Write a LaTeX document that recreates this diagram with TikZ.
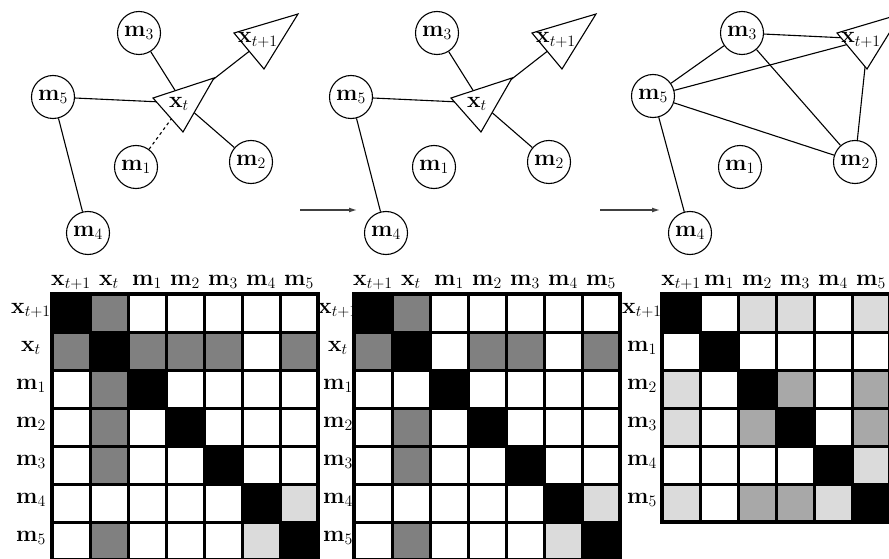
\documentclass[tikz,border=0pt]{standalone}
\usepackage{graphicx}
\usetikzlibrary{arrows.meta}
\definecolor{cK}{gray}{0}
\definecolor{cD}{gray}{0.5}
\definecolor{cM}{gray}{0.66}
\definecolor{cL}{gray}{0.86}
\definecolor{cW}{gray}{1}
\newcommand\Tx[1]{\scalebox{1.1}{$#1$}}
\begin{document}
\begin{tikzpicture}[x=1pt,y=-1pt,
  font=\huge,
  mnode/.style={circle,draw,line width=1.1pt,minimum size=43pt,inner sep=0pt,fill=white},
  link/.style={line width=1.1pt},
  dlink/.style={line width=1.1pt,dash pattern=on 3pt off 3pt},
  robot/.style={draw,line width=1.1pt,fill=white,line join=miter},
  lbl/.style={inner sep=0pt},
  cell/.style={draw=black,line width=3pt},
  stepArrow/.style={line width=1.2pt,black!75,-{Latex[length=8pt,width=5pt]}}
]
\useasboundingbox (0,0) rectangle (889,559);
\clip (0,0) rectangle (889,559);

% ---------- graph 1 ----------
\node[mnode] (g1m3) at (139,33) {\Tx{\mathbf{m}_3}};
\node[mnode] (g1m5) at (53,97) {\Tx{\mathbf{m}_5}};
\node[mnode] (g1m1) at (136,167) {\Tx{\mathbf{m}_1}};
\node[mnode] (g1m2) at (251,162) {\Tx{\mathbf{m}_2}};
\node[mnode] (g1m4) at (88,233) {\Tx{\mathbf{m}_4}};
\coordinate (g1xt) at (183,103);
\coordinate (g1xn) at (265,39);
\draw[link] (g1m3) -- (g1xt);
\draw[link] (g1m5) -- (g1xt);
\draw[link] (g1m2) -- (g1xt);
\draw[link] (g1xt) -- (g1xn);
\draw[link] (g1m5) -- (g1m4);
\draw[dlink] (g1m1) -- (g1xt);
\draw[robot] (153,98) -- (214,78) -- (183,132) -- cycle;
\draw[robot] (234,33) -- (298,14) -- (264,69) -- cycle;
\node[lbl] (g1xtl) at (179,104) {\Tx{\mathbf{x}_t}};
\node[lbl] (g1xnl) at (258,40) {\Tx{\mathbf{x}_{t+1}}};

% ---------- graph 2 ----------
\begin{scope}[xshift=298pt]
\node[mnode] (g2m3) at (139,33) {\Tx{\mathbf{m}_3}};
\node[mnode] (g2m5) at (53,97) {\Tx{\mathbf{m}_5}};
\node[mnode] (g2m1) at (136,167) {\Tx{\mathbf{m}_1}};
\node[mnode] (g2m2) at (251,162) {\Tx{\mathbf{m}_2}};
\node[mnode] (g2m4) at (88,233) {\Tx{\mathbf{m}_4}};
\coordinate (g2xt) at (183,103);
\coordinate (g2xn) at (265,39);
\draw[link] (g2m3) -- (g2xt);
\draw[link] (g2m5) -- (g2xt);
\draw[link] (g2m2) -- (g2xt);
\draw[link] (g2xt) -- (g2xn);
\draw[link] (g2m5) -- (g2m4);
\draw[robot] (153,98) -- (214,78) -- (183,132) -- cycle;
\draw[robot] (234,33) -- (298,14) -- (264,69) -- cycle;
\node[lbl] (g2xtl) at (179,104) {\Tx{\mathbf{x}_t}};
\node[lbl] (g2xnl) at (258,40) {\Tx{\mathbf{x}_{t+1}}};
\end{scope}

% ---------- graph 3 ----------
\begin{scope}[xshift=603pt]
\node[mnode] (g3m3) at (139,33) {\Tx{\mathbf{m}_3}};
\node[mnode] (g3m5) at (50,96) {\Tx{\mathbf{m}_5}};
\node[mnode] (g3m1) at (137,167) {\Tx{\mathbf{m}_1}};
\node[mnode] (g3m2) at (252,162) {\Tx{\mathbf{m}_2}};
\node[mnode] (g3m4) at (87,233) {\Tx{\mathbf{m}_4}};
\coordinate (g3xn) at (265,39);
\draw[link] (g3m3) -- (g3xn);
\draw[link] (g3m3) -- (g3m5);
\draw[link] (g3m3) -- (g3m2);
\draw[link] (g3m5) -- (g3xn);
\draw[link] (g3m5) -- (g3m2);
\draw[link] (g3m2) -- (g3xn);
\draw[link] (g3m5) -- (g3m4);
\draw[robot] (234,33) -- (298,14) -- (264,69) -- cycle;
\node[lbl] (g3xnl) at (258,40) {\Tx{\mathbf{x}_{t+1}}};
\end{scope}

% ---------- arrows ----------
\coordinate (a1s) at (300,210);
\coordinate (a1e) at (357,210);
\coordinate (a2s) at (600,210);
\coordinate (a2e) at (660,210);
\draw[stepArrow] (a1s) -- (a1e);
\draw[stepArrow] (a2s) -- (a2e);

% ---------- labels of matrices ----------
\foreach \t [count=\j] in {{\mathbf{x}_{t+1}},{\mathbf{x}_t},{\mathbf{m}_1},{\mathbf{m}_2},{\mathbf{m}_3},{\mathbf{m}_4},{\mathbf{m}_5}} {
  \node[lbl,anchor=base] (hA\j) at ({52+(\j-1)*38+19},285) {\Tx{\t}};
  \node[lbl,anchor=base] (rA\j) at (31,{294+(\j-1)*38+19}) {\Tx{\t}};
  \node[lbl,anchor=base] (hB\j) at ({354+(\j-1)*38+19},285) {\Tx{\t}};
  \node[lbl,anchor=base] (rB\j) at (338,{294+(\j-1)*38+19}) {\Tx{\t}};
}
\foreach \t [count=\j] in {{\mathbf{x}_{t+1}},{\mathbf{m}_1},{\mathbf{m}_2},{\mathbf{m}_3},{\mathbf{m}_4},{\mathbf{m}_5}} {
  \node[lbl,anchor=base] (hC\j) at ({662+(\j-1)*38+19},285) {\Tx{\t}};
  \node[lbl,anchor=base] (rC\j) at (642,{294+(\j-1)*38+19}) {\Tx{\t}};
}

% ---------- matrix 1 ----------
\foreach \r [count=\i] in {{K,D,W,W,W,W,W},{D,K,D,D,D,W,D},{W,D,K,W,W,W,W},{W,D,W,K,W,W,W},{W,D,W,W,K,W,W},{W,W,W,W,W,K,L},{W,D,W,W,W,L,K}} {
  \foreach \c [count=\j] in \r {
    \filldraw[cell,fill=c\c] ({52+(\j-1)*38},{294+(\i-1)*38}) rectangle ++(38,38);
  }
}
\draw[line width=4pt] (52,294) rectangle ++(266,266);

% ---------- matrix 2 ----------
\foreach \r [count=\i] in {{K,D,W,W,W,W,W},{D,K,W,D,D,W,D},{W,W,K,W,W,W,W},{W,D,W,K,W,W,W},{W,D,W,W,K,W,W},{W,W,W,W,W,K,L},{W,D,W,W,W,L,K}} {
  \foreach \c [count=\j] in \r {
    \filldraw[cell,fill=c\c] ({354+(\j-1)*38},{294+(\i-1)*38}) rectangle ++(38,38);
  }
}
\draw[line width=4pt] (354,294) rectangle ++(266,266);

% ---------- matrix 3 ----------
\foreach \r [count=\i] in {{K,W,L,L,W,L},{W,K,W,W,W,W},{L,W,K,M,W,M},{L,W,M,K,W,M},{W,W,W,W,K,L},{L,W,M,M,L,K}} {
  \foreach \c [count=\j] in \r {
    \filldraw[cell,fill=c\c] ({662+(\j-1)*38},{294+(\i-1)*38}) rectangle ++(38,38);
  }
}
\draw[line width=4pt] (662,294) rectangle ++(228,228);
\end{tikzpicture}
\end{document}
